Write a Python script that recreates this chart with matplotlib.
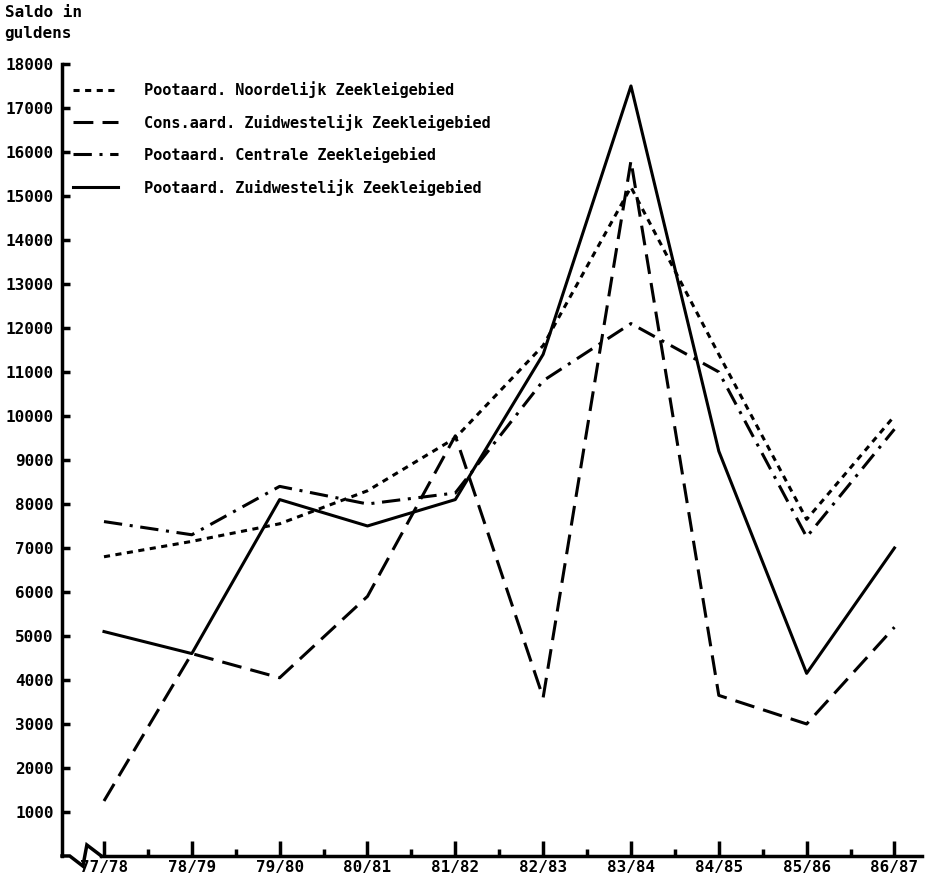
from matplotlib import pyplot as plt
from matplotlib.lines import Line2D
import numpy as np

# jaren (seizoenen)
seizoenen = ["77/78", "78/79", "79/80", "80/81", "81/82",
             "82/83", "83/84", "84/85", "85/86", "86/87"]

# saldo in guldens per bedrijfstype
noordelijk = [6800, 7150, 7550, 8300, 9500, 11600, 15200, 11400, 7650, 10000]
cons_zuidwest = [1250, 4600, 4050, 5900, 9550, 3600, 15800, 3650, 3000, 5200]
centrale = [7600, 7300, 8400, 8000, 8250, 10800, 12100, 11000, 7250, 9700]
pootaard_zuidwest = [5100, 4600, 8100, 7500, 8100, 11400, 17500, 9200, 4150, 7000]

labels = ["Pootaard. Noordelijk Zeekleigebied",
          "Cons.aard. Zuidwestelijk Zeekleigebied",
          "Pootaard. Centrale Zeekleigebied",
          "Pootaard. Zuidwestelijk Zeekleigebied"]

y_ticks = list(range(1000, 18001, 1000))

plt.rcParams['font.family'] = ['DejaVu Sans Mono']
plt.rcParams['font.weight'] = 'bold'

fig = plt.figure(figsize=(9.31, 8.81), dpi=100)
ax = fig.add_axes([0.0666, 0.0284, 0.9234, 0.899])

x = np.arange(len(seizoenen))
lw = 2.2
ls_dots = (0, (2, 1.8))
ls_dash = (0, (6.5, 3))
ls_dashdot = (0, (6, 2.5, 1, 2.5))

ax.plot(x, noordelijk, color='black', lw=lw, linestyle=ls_dots)
ax.plot(x, cons_zuidwest, color='black', lw=lw, linestyle=ls_dash)
ax.plot(x, centrale, color='black', lw=lw, linestyle=ls_dashdot)
ax.plot(x, pootaard_zuidwest, color='black', lw=lw, linestyle='-')

ax.set_xlim(-0.478, 9.31)
ax.set_ylim(0, 18000)

# assen
for side in ['top', 'right']:
    ax.spines[side].set_visible(False)
ax.spines['left'].set_linewidth(2.5)
ax.spines['bottom'].set_linewidth(2.5)

ax.set_yticks(y_ticks)
ax.set_yticklabels([str(v) for v in y_ticks], fontsize=11.5)
ax.tick_params(axis='y', direction='in', length=6, width=2.5, pad=6)

ax.set_xticks(x)
ax.set_xticklabels(seizoenen, fontsize=11.5)
ax.set_xticks(x[:-1] + 0.5, minor=True)
ax.tick_params(axis='x', which='major', direction='in', length=11, width=2.5, pad=3)
ax.tick_params(axis='x', which='minor', direction='in', length=5, width=2.5)

# onderbreking op de x-as
ax.spines['bottom'].set_bounds(-0.03, 9.31)
brk_x = [-0.478, -0.39, -0.24, -0.195, -0.03]
brk_y = [0, 0, -230, 250, 0]
ax.plot(brk_x, brk_y, color='black', lw=2.5, clip_on=False, solid_joinstyle='miter')

# titel van de y-as
fig.text(0.005, 0.994, "Saldo in\nguldens", fontsize=11.5, fontweight='bold',
         va='top', ha='left', linespacing=1.45)

# legenda
handles = [
    Line2D([], [], color='black', lw=lw, linestyle=ls_dots),
    Line2D([], [], color='black', lw=lw, linestyle=ls_dash),
    Line2D([], [], color='black', lw=lw, linestyle=ls_dashdot),
    Line2D([], [], color='black', lw=lw, linestyle='-'),
]
fig.legend(handles, labels, loc='upper left', bbox_to_anchor=(0.078, 0.908),
           frameon=False, fontsize=11, handlelength=3.0, handletextpad=1.7,
           labelspacing=1.05, borderpad=0, borderaxespad=0)

fig.savefig("out.png", dpi=100)
